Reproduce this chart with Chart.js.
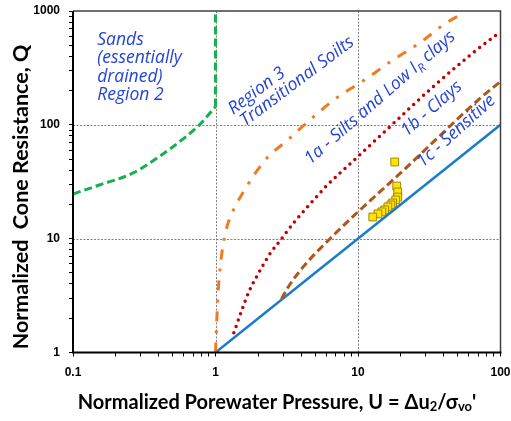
<!DOCTYPE html>
<html>
<head>
<meta charset="utf-8">
<script src="https://cdn.jsdelivr.net/npm/chart.js@4.4.0/dist/chart.umd.min.js"></script>
<style>
  html, body { margin: 0; padding: 0; background: #fff; }
  #wrap { width: 511px; height: 421px; }
</style>
</head>
<body>
<div id="wrap"><canvas id="chartCanvas" width="511" height="421"></canvas></div>
<script>
// boundary curves as (U, Q) pairs
const sandsU = [0.1, 0.153, 0.262, 0.45, 0.622, 0.772, 1];
const sandsQ = [24.7, 29.6, 37.6, 58, 79, 100, 145];
const sandsEdgeU = [1, 1];
const sandsEdgeQ = [145, 1000];

const transU = [1, 1.021, 1.046, 1.081, 1.131, 1.214, 1.405, 1.6, 1.865, 2.3, 3.23, 4.69, 7.14, 11.4, 17.4, 26.7, 41.3, 51.9];
const transQ = [1, 1.93, 3.54, 5.75, 8.8, 13.2, 20.2, 26.8, 36.3, 51.2, 74, 113, 174, 253, 368, 517, 781, 924];

const siltsU = [1.345, 1.5, 1.73, 2.01, 2.4, 2.89, 3.59, 4.58, 6, 10, 16.7, 33.5, 62.8, 100];
const siltsQ = [1.49, 2.2, 3.5, 5.0, 7.3, 9.9, 14.1, 20, 29, 52.7, 96, 215, 420, 660];

const claysU = [2.9, 3.3, 4.2, 6.16, 10, 20, 33.5, 71.5, 100];
const claysQ = [2.95, 3.9, 5.8, 9.6, 17.2, 38, 70, 170, 240];

const sensitiveU = [1, 100];
const sensitiveQ = [1, 100];

// measured CPTu points
const measuredU = [18.1, 18.7, 19.0, 19.0, 18.4, 17.5, 17.0, 16.2, 15.4, 14.7, 13.8, 12.7];
const measuredQ = [47.2, 29.0, 25.7, 23.2, 21.9, 20.6, 19.8, 19.0, 17.9, 17.2, 16.5, 15.5];

// axis decades
const xTicks = [0.1, 1, 10, 100];
const yTicks = [1, 10, 100, 1000];

function pts(us, qs) {
    return us.map((u, i) => ({ x: u, y: qs[i] }));
}

function minorTicks(decades) {
    const out = [];
    for (let i = 0; i < decades.length - 1; i++) {
        for (let m = 1; m < 10; m++) out.push(decades[i] * m);
    }
    out.push(decades[decades.length - 1]);
    return out;
}

const blue = '#2343d8';
const labelFont = 'italic 17.5px "Open Sans"';
const labelSub = 'italic 12px "Open Sans"';

// region labels; each part is [text, subscript?]
const zoneLabels = [
    { parts: [['Sands', false]], u: 0.148, q: 504, angle: 0, dy: 0 },
    { parts: [['(essentially', false]], u: 0.148, q: 504, angle: 0, dy: 18.5 },
    { parts: [['drained)', false]], u: 0.148, q: 504, angle: 0, dy: 37 },
    { parts: [['Region 2', false]], u: 0.148, q: 504, angle: 0, dy: 55.5 },
    { parts: [['Region 3', false]], u: 1.33, q: 122, angle: -37, dy: 0 },
    { parts: [['Transitional Soilts', false]], u: 1.62, q: 96, angle: -37, dy: 0 },
    { parts: [['1a - Silts and Low I', false], ['R', true], [' clays', false]], u: 4.62, q: 44.4, angle: -41, dy: 0 },
    { parts: [['1b - Clays', false]], u: 22.0, q: 78.3, angle: -41, dy: 0 },
    { parts: [['1c - Sensitive', false]], u: 28.5, q: 41.8, angle: -42, dy: 0 }
];

function drawRich(ctx, parts, font, subFont, x, y) {
    let cx = x;
    parts.forEach(([t, sub]) => {
        ctx.font = sub ? subFont : font;
        ctx.fillText(t, cx, sub ? y + 4 : y);
        cx += ctx.measureText(t).width;
    });
}

function richWidth(ctx, parts, font, subFont) {
    let w = 0;
    parts.forEach(([t, sub]) => {
        ctx.font = sub ? subFont : font;
        w += ctx.measureText(t).width;
    });
    return w;
}

const overlay = {
    id: 'overlay',
    beforeDatasetsDraw(chart) {
        const { ctx, chartArea: a, scales: { x, y } } = chart;
        ctx.save();
        ctx.strokeStyle = '#808080';
        ctx.lineWidth = 1;
        ctx.setLineDash([2, 1.5]);
        xTicks.slice(1, -1).forEach(v => {
            const px = Math.round(x.getPixelForValue(v)) + 0.5;
            ctx.beginPath(); ctx.moveTo(px, a.top); ctx.lineTo(px, a.bottom); ctx.stroke();
        });
        yTicks.slice(1, -1).forEach(v => {
            const py = Math.round(y.getPixelForValue(v)) + 0.5;
            ctx.beginPath(); ctx.moveTo(a.left, py); ctx.lineTo(a.right, py); ctx.stroke();
        });
        ctx.restore();
    },
    afterDraw(chart) {
        const { ctx, chartArea: a, scales: { x, y } } = chart;
        ctx.save();
        // plot frame
        ctx.strokeStyle = '#404040';
        ctx.lineWidth = 1.5;
        ctx.beginPath();
        ctx.moveTo(a.left, a.top); ctx.lineTo(a.right, a.top); ctx.lineTo(a.right, a.bottom);
        ctx.stroke();
        ctx.strokeStyle = '#000';
        ctx.lineWidth = 2;
        ctx.beginPath();
        ctx.moveTo(a.left, a.top); ctx.lineTo(a.left, a.bottom); ctx.lineTo(a.right + 1, a.bottom);
        ctx.stroke();

        // zone labels
        ctx.fillStyle = blue;
        ctx.textBaseline = 'alphabetic';
        ctx.textAlign = 'left';
        zoneLabels.forEach(l => {
            ctx.save();
            ctx.translate(x.getPixelForValue(l.u), y.getPixelForValue(l.q) + l.dy);
            ctx.rotate(l.angle * Math.PI / 180);
            drawRich(ctx, l.parts, labelFont, labelSub, 0, 0);
            ctx.restore();
        });

        // axis titles
        ctx.fillStyle = '#000';
        ctx.textBaseline = 'middle';
        const yFont = 'bold 21.5px Lato';
        const yTitle = [['Normalized  Cone Resistance, Q', false]];
        ctx.save();
        ctx.translate(21, 197);
        ctx.rotate(-Math.PI / 2);
        drawRich(ctx, yTitle, yFont, yFont, -richWidth(ctx, yTitle, yFont, yFont) / 2, 0);
        ctx.restore();

        const tFont = 'bold 20px Lato';
        const tSub = 'bold 13px Lato';
        const xTitle = [['Normalized Porewater Pressure, U = \u0394u', false], ['2', true], ['/\u03c3', false], ['vo', true], ["'", false]];
        drawRich(ctx, xTitle, tFont, tSub, 277 - richWidth(ctx, xTitle, tFont, tSub) / 2, 403);
        ctx.restore();
    }
};

const tickFont = { family: 'Liberation Sans', weight: 'bold', size: 12 };

function lineSet(data, color, width, dash, extra) {
    return Object.assign({
        data: data,
        showLine: true,
        borderColor: color,
        borderWidth: width,
        borderDash: dash,
        pointRadius: 0,
        fill: false,
        cubicInterpolationMode: 'monotone'
    }, extra || {});
}

const config = {
    type: 'scatter',
    data: {
        datasets: [
            lineSet(pts(sandsU, sandsQ), '#16b050', 3, [8, 4]),
            lineSet(pts(sandsEdgeU, sandsEdgeQ), '#16b050', 3, [8, 4], { cubicInterpolationMode: 'default', tension: 0 }),
            lineSet(pts(transU, transQ), '#ef7b22', 3, [10, 9, 3, 9]),
            lineSet(pts(siltsU, siltsQ), '#c00000', 3.5, [0, 6.7], { borderCapStyle: 'round' }),
            lineSet(pts(claysU, claysQ), '#b0561d', 3, [8, 4]),
            lineSet(pts(sensitiveU, sensitiveQ), '#1c7ccc', 2.5, [], { cubicInterpolationMode: 'default', tension: 0 }),
            {
                data: pts(measuredU, measuredQ),
                pointStyle: 'rect',
                pointRadius: 5.5,
                backgroundColor: '#ffe600',
                borderColor: '#a88400',
                borderWidth: 1
            }
        ]
    },
    options: {
        responsive: false,
        animation: false,
        devicePixelRatio: 1,
        layout: { padding: { top: 11, right: 10.5, left: 0, bottom: 0 } },
        plugins: {
            legend: { display: false },
            tooltip: { enabled: false },
            title: { display: false }
        },
        scales: {
            x: {
                type: 'logarithmic',
                min: 0.1,
                max: 100,
                afterBuildTicks: s => { s.ticks = minorTicks(xTicks).map(v => ({ value: v })); },
                afterFit: s => { s.height = 68.5; s.paddingLeft = 0; s.paddingRight = 0; },
                border: { display: false },
                grid: { drawOnChartArea: false, drawTicks: true, tickLength: 4, tickColor: '#000', lineWidth: 1 },
                ticks: {
                    autoSkip: false, maxRotation: 0, padding: 9, color: '#000', font: tickFont,
                    callback: v => xTicks.includes(v) ? String(v) : ''
                },
                title: { display: false }
            },
            y: {
                type: 'logarithmic',
                min: 1,
                max: 1000,
                afterBuildTicks: s => { s.ticks = minorTicks(yTicks).map(v => ({ value: v })); },
                afterFit: s => { s.width = 73; s.paddingTop = 0; s.paddingBottom = 0; },
                border: { display: false },
                grid: { drawOnChartArea: false, drawTicks: true, tickLength: 4, tickColor: '#000', lineWidth: 1 },
                ticks: {
                    autoSkip: false, padding: 9, color: '#000', font: tickFont,
                    callback: v => yTicks.includes(v) ? String(v) : ''
                },
                title: { display: false }
            }
        }
    },
    plugins: [overlay]
};

const chartCanvas = document.getElementById('chartCanvas');
window.myChart = new Chart(chartCanvas.getContext('2d'), config);
</script>
</body>
</html>
